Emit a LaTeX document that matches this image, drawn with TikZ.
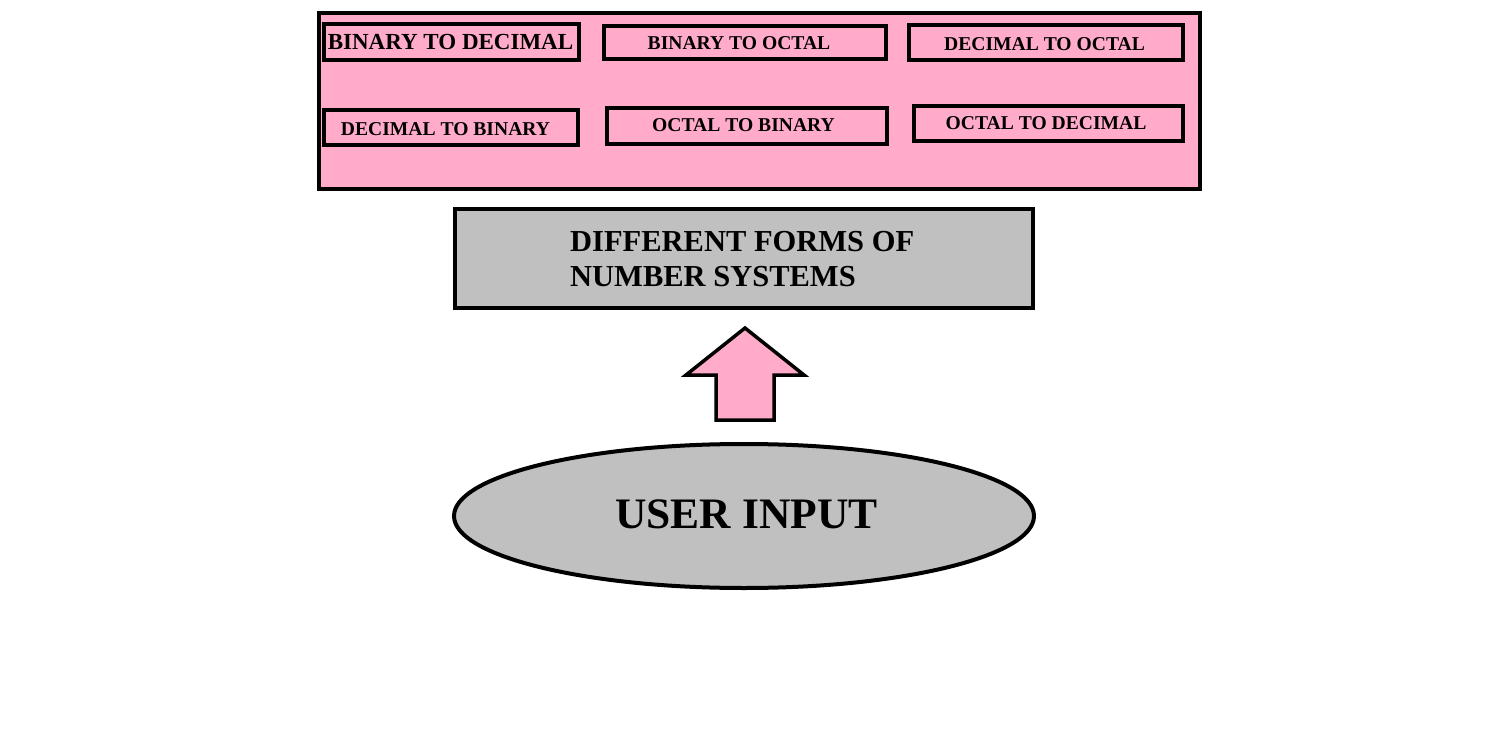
\documentclass[tikz,border=0pt]{standalone}
\usepackage{fontspec}
\setmainfont{Liberation Serif}
\usetikzlibrary{shapes.geometric}
\definecolor{pinkfill}{RGB}{255,171,201}
\definecolor{grayfill}{RGB}{192,192,192}
\begin{document}
\begin{tikzpicture}[x=1pt,y=-1pt,
  convbox/.style={draw=black,line width=4.5pt,fill=pinkfill,inner sep=0pt},
  convtext/.style={font=\bfseries\fontsize{19.6}{22}\selectfont,inner sep=0pt}]
\useasboundingbox (0,0) rectangle (1510,738);
% outer panel
\node[draw=black,line width=4pt,fill=pinkfill,minimum width=881pt,minimum height=176pt,anchor=north west,inner sep=0pt] (panel) at (317,11) {};
% conversion boxes
\node[convbox,minimum width=255pt,minimum height=36pt] (b2d) at (451.5,42) {};
\node[convbox,minimum width=282pt,minimum height=33pt] (b2o) at (745,42.5) {};
\node[convbox,minimum width=274pt,minimum height=35pt] (d2o) at (1046,42.5) {};
\node[convbox,minimum width=254pt,minimum height=35pt] (d2b) at (451,127.5) {};
\node[convbox,minimum width=280pt,minimum height=36pt] (o2b) at (747,126) {};
\node[convbox,minimum width=269pt,minimum height=35pt] (o2d) at (1048.5,123.5) {};
\node[font=\bfseries\fontsize{23}{26}\selectfont,inner sep=0pt] (b2dt) at (450.5,42) {BINARY TO DECIMAL};
\node[convtext] (b2ot) at (739,43) {BINARY TO OCTAL};
\node[convtext] (d2ot) at (1044.5,44) {DECIMAL TO OCTAL};
\node[convtext] (d2bt) at (445.5,129) {DECIMAL TO BINARY};
\node[convtext] (o2bt) at (743.5,125) {OCTAL TO BINARY};
\node[convtext] (o2dt) at (1046,123) {OCTAL TO DECIMAL};
% middle box
\node[draw=black,line width=4pt,fill=grayfill,minimum width=578pt,minimum height=99pt,inner sep=0pt] (forms) at (744,258.5) {};
\node[font=\bfseries\fontsize{30.5}{35}\selectfont,align=left,anchor=west,inner sep=0pt] (formstext) at (570,259) {DIFFERENT FORMS OF\\NUMBER SYSTEMS};
% ellipse
\node[draw=black,line width=4pt,fill=grayfill,ellipse,minimum width=580pt,minimum height=144pt,inner sep=0pt] (user) at (744,516) {};
\node[font=\bfseries\fontsize{43.5}{46}\selectfont,inner sep=0pt] (usertext) at (746.5,514.5) {USER INPUT};
% block arrow from user to forms
\coordinate (tip) at (745,328);
\draw[line width=3.5pt,fill=pinkfill,line join=miter] (tip) -- (804,375) -- (774,375) -- (774,420) -- (716,420) -- (716,375) -- (686,375) -- cycle;
\end{tikzpicture}
\end{document}
